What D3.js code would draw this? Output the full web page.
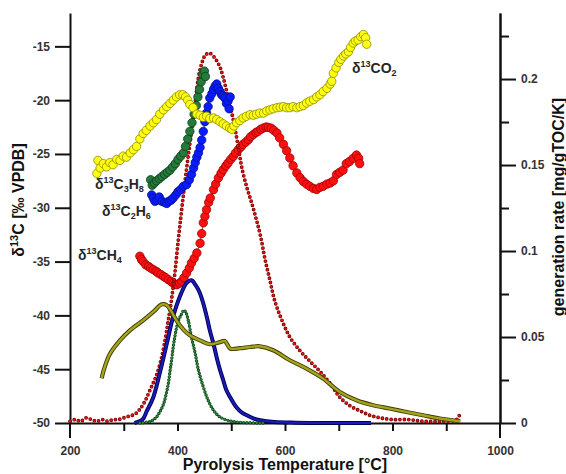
<!DOCTYPE html>
<html lang="en">
<head>
<meta charset="UTF-8">
<title>Pyrolysis isotopes</title>
<style type="text/css">
body { margin: 0; background: #fff; }
svg text { font-family: "Liberation Sans", Arial, sans-serif; }
.axis .domain, .axis line { stroke: #111; stroke-width: 2px; }
.axis text { font-size: 12px; font-weight: bold; fill: #333; font-family: "Liberation Sans", Arial, sans-serif; }
.title { font-size: 16px; font-weight: bold; fill: #111; }
.lbl { font-size: 14px; font-weight: bold; fill: #262626; }
</style>
</head>
<body>
<script src="https://cdnjs.cloudflare.com/ajax/libs/d3/7.8.5/d3.min.js"></script>
<script>
// isotope series, [temperature °C, δ13C ‰]
var co2 = [[250,-26.8],[252,-25.6],[256,-26.3],[262,-25.9],[268,-26.2],[274,-25.8],[280,-26.0],[287,-25.5],[293,-25.6],[299,-25.2],[305,-25.3],[312,-24.9],[318,-24.6],[324,-24.3],[330,-23.6],[336,-23.1],[342,-22.8],[349,-22.4],[355,-22.1],[361,-21.8],[367,-21.3],[374,-20.9],[380,-20.6],[386,-20.3],[392,-20.0],[398,-19.7],[404,-19.5],[410,-19.5],[415,-19.7],[419,-20.0],[423,-20.4],[429,-20.7],[436,-21.3],[442,-21.4],[448,-21.6],[454,-21.5],[460,-21.7],[467,-21.65],[473,-21.8],[479,-22.0],[485,-22.2],[491,-22.4],[497,-22.6],[501,-22.7],[505,-22.4],[510,-22.1],[516,-21.9],[522,-21.65],[528,-21.5],[535,-21.35],[541,-21.4],[547,-21.3],[553,-21.2],[560,-21.2],[566,-21.0],[572,-20.9],[578,-20.8],[585,-20.7],[591,-20.65],[597,-20.6],[603,-20.7],[609,-20.7],[615,-20.6],[622,-20.7],[628,-20.6],[634,-20.5],[640,-20.26],[646,-20.1],[653,-19.95],[659,-19.7],[665,-19.5],[671,-19.2],[678,-18.9],[684,-18.5],[687,-18.25],[690,-17.5],[695,-17.0],[700,-16.5],[704,-16.2],[709,-15.9],[713,-15.7],[718,-15.5],[722,-15.1],[727,-14.7],[731,-14.5],[736,-14.4],[741,-14.1],[746,-13.9],[750,-14.2],[752,-14.8]];
var ch4 = [[330,-34.5],[333,-34.8],[336,-35.0],[341,-35.3],[346,-35.45],[350,-35.6],[355,-35.75],[360,-35.9],[364,-36.06],[369,-36.2],[374,-36.37],[378,-36.5],[383,-36.68],[388,-36.85],[392,-37.0],[396,-37.1],[399,-37.15],[404,-37.0],[408,-36.84],[412,-36.5],[417,-36.06],[422,-35.6],[426,-35.13],[431,-34.7],[436,-34.2],[442,-33.3],[445,-32.4],[448,-31.4],[451,-30.8],[454,-30.18],[458,-29.5],[461,-29.09],[467,-28.32],[471,-27.8],[476,-27.23],[481,-26.8],[485,-26.46],[490,-26.1],[494,-25.84],[499,-25.5],[504,-25.22],[508,-24.9],[513,-24.6],[518,-24.35],[522,-24.1],[527,-23.9],[532,-23.67],[536,-23.4],[541,-23.2],[546,-23.0],[550,-22.9],[555,-22.7],[560,-22.58],[565,-22.5],[569,-22.53],[574,-22.6],[579,-22.8],[585,-23.05],[590,-23.5],[597,-24.1],[603,-24.7],[609,-25.37],[615,-26.1],[622,-26.76],[628,-27.2],[634,-27.55],[640,-27.8],[646,-28.0],[653,-28.2],[659,-28.3],[665,-28.1],[671,-28.0],[678,-27.8],[684,-27.7],[690,-27.5],[696,-26.9],[702,-26.7],[708,-26.5],[714,-25.9],[720,-25.7],[727,-25.4],[733,-25.1],[737,-25.4],[739,-25.9]];
var c3h8 = [[350,-27.4],[353,-27.9],[357,-27.7],[361,-27.5],[366,-27.3],[371,-27.1],[376,-26.9],[381,-26.7],[386,-26.5],[391,-26.2],[396,-25.9],[401,-25.5],[406,-25.2],[411,-24.9],[415,-24.3],[419,-23.6],[423,-22.9],[427,-22.1],[431,-21.3],[435,-20.5],[438,-19.7],[441,-19.0],[444,-18.3],[447,-17.6],[450,-17.3],[452,-17.8]];
var c2h6 = [[352,-28.8],[355,-29.1],[358,-29.4],[362,-29.3],[366,-29.0],[371,-29.4],[376,-29.5],[380,-29.6],[384,-29.4],[388,-29.3],[392,-29.1],[397,-28.8],[401,-28.5],[406,-28.3],[411,-28.0],[417,-27.85],[422,-27.4],[426,-26.9],[430,-26.3],[433,-25.8],[436,-25.3],[439,-24.9],[442,-24.4],[445,-23.7],[448,-22.9],[451,-22.0],[454,-21.2],[457,-20.6],[460,-19.8],[464,-19.4],[467,-19.0],[470,-18.7],[473,-18.5],[476,-18.9],[479,-19.2],[482,-19.5],[485,-19.6],[488,-19.8],[491,-20.3],[494,-20.1],[496,-20.8],[498,-19.7]];

// generation rates, [temperature °C, mg/gTOC/K]
var rateRed = [[200,0.001],[210,0.002],[220,0.001],[230,0.003],[240,0.002],[250,0.001],[260,0.002],[270,0.001],[280,0.002],[290,0.002],[300,0.003],[310,0.004],[320,0.005],[330,0.008],[340,0.013],[350,0.020],[360,0.027],[368,0.035],[375,0.045],[382,0.058],[389,0.072],[395,0.087],[401,0.105],[407,0.122],[413,0.138],[419,0.153],[425,0.167],[432,0.184],[439,0.201],[445,0.209],[452,0.214],[460,0.215],[470,0.212],[479,0.207],[485,0.201],[492,0.192],[498,0.184],[504,0.176],[510,0.166],[515,0.157],[520,0.148],[529,0.137],[538,0.128],[547,0.118],[555,0.108],[563,0.095],[572,0.083],[581,0.071],[594,0.060],[609,0.050],[628,0.042],[646,0.036],[665,0.030],[684,0.023],[702,0.015],[721,0.010],[740,0.007],[758,0.0045],[777,0.003],[800,0.002],[830,0.002],[857,0.001],[888,0.001],[919,0.002],[925,0.005]];
var rateBlue = [[320,0],[335,0.002],[343,0.007],[355,0.015],[367,0.029],[380,0.046],[392,0.062],[405,0.074],[417,0.0815],[426,0.083],[434,0.080],[441,0.076],[448,0.0695],[455,0.061],[460,0.054],[467,0.046],[473,0.038],[479,0.031],[485,0.025],[491,0.019],[498,0.015],[510,0.009],[520,0.006],[529,0.0045],[540,0.0028],[554,0.0016],[580,0.0006],[620,0.0002],[680,0],[760,0]];
var rateGreen = [[330,0],[350,0.001],[361,0.0035],[368,0.007],[374,0.011],[379,0.017],[383,0.023],[386,0.030],[389,0.0365],[392,0.044],[395,0.050],[398,0.055],[402,0.0597],[407,0.063],[412,0.0656],[416,0.064],[420,0.0597],[426,0.050],[433,0.0404],[439,0.0307],[448,0.021],[457,0.0132],[467,0.0074],[479,0.0035],[498,0.0012],[520,0.0003],[560,0]];
var rateOlive = [[259,0.026],[263,0.031],[274,0.040],[293,0.048],[312,0.054],[336,0.0597],[355,0.0646],[371,0.069],[380,0.0685],[389,0.0646],[398,0.0597],[411,0.0543],[423,0.051],[442,0.048],[460,0.0458],[479,0.047],[488,0.0477],[498,0.0433],[516,0.0435],[535,0.0442],[553,0.0446],[578,0.0423],[609,0.0365],[640,0.0316],[671,0.0258],[702,0.018],[733,0.0132],[764,0.0103],[795,0.0084],[826,0.0064],[857,0.0045],[888,0.0026],[926,0.001]];

var xTicks = [300, 400, 500, 600, 700, 800, 900];
var xLabels = [200, 400, 600, 800, 1000];
var yLeftTicks = [-50, -45, -40, -35, -30, -25, -20, -15];
var yRightMajor = [0, 0.05, 0.1, 0.15, 0.2];
var yRightMinor = [0.025, 0.075, 0.125, 0.175, 0.225];

var W = 566, H = 474;
var x = d3.scaleLinear().domain([200, 1000]).range([70, 500]);
var yL = d3.scaleLinear().domain([-50, -11.9]).range([423, 13]);
var yR = d3.scaleLinear().domain([0, 0.2384]).range([423, 13]);

var svg = d3.select("body").append("svg").attr("width", W).attr("height", H);

// axes
svg.append("g").attr("class", "axis")
    .attr("transform", "translate(70,0)")
    .call(d3.axisLeft(yL).tickValues(yLeftTicks).tickSize(15).tickSizeOuter(0).tickPadding(5).tickFormat(String));

svg.append("g").attr("class", "axis")
    .attr("transform", "translate(500,0)")
    .call(d3.axisRight(yR).tickValues(yRightMinor).tickSize(9).tickSizeOuter(0).tickFormat(""));
svg.append("g").attr("class", "axis")
    .attr("transform", "translate(500,0)")
    .call(d3.axisRight(yR).tickValues(yRightMajor).tickSize(16).tickSizeOuter(0).tickPadding(5).tickFormat(String));

svg.append("g").attr("class", "axis")
    .attr("transform", "translate(0,423)")
    .call(d3.axisBottom(x).tickValues(xTicks).tickSize(8).tickSizeOuter(0).tickFormat(""));
svg.append("g").attr("class", "axis")
    .attr("transform", "translate(0,423)")
    .call(d3.axisBottom(x).tickValues(xLabels).tickSize(0).tickSizeOuter(0).tickPadding(23).tickFormat(String))
    .select(".domain").remove();

// axis lines run a bit below the baseline
[200, 1000].forEach(function (t) {
  svg.append("line").attr("x1", x(t)).attr("x2", x(t)).attr("y1", 423).attr("y2", 438)
      .attr("stroke", "#111").attr("stroke-width", 2);
});

// titles
svg.append("text").attr("class", "title").attr("x", 285).attr("y", 470)
    .attr("text-anchor", "middle").text("Pyrolysis Temperature [°C]");

var lt = svg.append("text").attr("class", "title").attr("text-anchor", "middle")
    .attr("font-size", 17)
    .attr("transform", "translate(24,200) rotate(-90)");
lt.append("tspan").text("δ");
lt.append("tspan").attr("font-size", 11).attr("dy", -6).text("13");
lt.append("tspan").attr("dy", 6).text("C [‰ VPDB]");

svg.append("text").attr("class", "title").attr("text-anchor", "middle")
    .attr("transform", "translate(564,207) rotate(-90)")
    .text("generation rate [mg/gTOC/K]");

// rate curves
function rateLine(data) {
  return d3.line().x(function (d) { return x(d[0]); })
      .y(function (d) { return yR(d[1]); })
      .curve(d3.curveCatmullRom)(data);
}
function dotted(data, fill, edge, w, gap) {
  var g = svg.append("g").attr("fill", "none").attr("stroke-linecap", "round");
  g.append("path").attr("d", rateLine(data)).attr("stroke", edge)
      .attr("stroke-width", w + 1.4).attr("stroke-dasharray", "0 " + gap);
  g.append("path").attr("d", rateLine(data)).attr("stroke", fill)
      .attr("stroke-width", w).attr("stroke-dasharray", "0 " + gap);
}
function solid(data, fill, edge, w) {
  var g = svg.append("g").attr("fill", "none").attr("stroke-linejoin", "round");
  g.append("path").attr("d", rateLine(data)).attr("stroke", edge).attr("stroke-width", w + 1.8);
  g.append("path").attr("d", rateLine(data)).attr("stroke", fill).attr("stroke-width", w);
}

// isotope circles
function isoSeries(data, fill, edge) {
  var g = svg.append("g");
  g.append("path")
      .attr("d", d3.line().x(function (d) { return x(d[0]); }).y(function (d) { return yL(d[1]); })(data))
      .attr("fill", "none").attr("stroke", "#333").attr("stroke-width", 0.8);
  g.selectAll("circle").data(data).enter().append("circle")
      .attr("cx", function (d) { return x(d[0]); })
      .attr("cy", function (d) { return yL(d[1]); })
      .attr("r", 4.2)
      .attr("fill", fill).attr("stroke", edge).attr("stroke-width", 0.8);
}

isoSeries(ch4, "#ff1010", "#9a0000");
dotted(rateRed, "#e81010", "#6a0000", 2.4, 4.4);
solid(rateBlue, "#1a1ab8", "#000050", 2.2);
dotted(rateGreen, "#2f8f3f", "#0b3d14", 2.0, 3.2);
solid(rateOlive, "#a6a41c", "#3d3c00", 2.4);
isoSeries(c2h6, "#0a1cff", "#00108a");
isoSeries(c3h8, "#237a3a", "#0c3d18");
isoSeries(co2, "#ffff10", "#8f8a00");

// series labels
function seriesLabel(px, py, base, sub) {
  var t = svg.append("text").attr("class", "lbl").attr("x", px).attr("y", py);
  t.append("tspan").text("δ");
  t.append("tspan").attr("font-size", 9).attr("dy", -6).text("13");
  var parts = base.split("_");
  t.append("tspan").attr("dy", 6).text(parts[0]);
  sub.forEach(function (s, i) {
    t.append("tspan").attr("font-size", 9).attr("dy", 3).text(s);
    if (parts[i + 1]) t.append("tspan").attr("dy", -3).text(parts[i + 1]);
  });
}
seriesLabel(352, 73, "CO", ["2"]);
seriesLabel(95, 189, "C_H", ["3", "8"]);
seriesLabel(102, 216, "C_H", ["2", "6"]);
seriesLabel(78, 260, "CH", ["4"]);
</script>
</body>
</html>
